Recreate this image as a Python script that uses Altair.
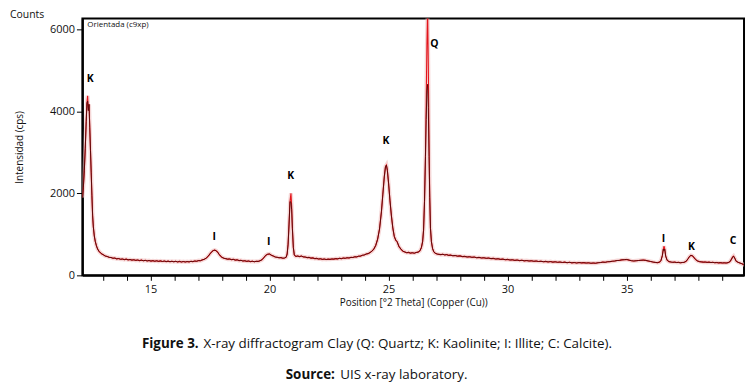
import altair as alt
import pandas as pd

two_theta = [
    12.14, 12.18, 12.22, 12.26, 12.30, 12.33, 12.36, 12.39, 12.42, 12.45,
    12.48, 12.51, 12.54, 12.57, 12.60, 12.64, 12.68, 12.73, 12.78, 12.84,
    12.90, 12.96, 13.02, 13.10, 13.18, 13.26, 13.34, 13.42, 13.50, 13.58,
    13.66, 13.74, 13.82, 13.90, 13.98, 14.06, 14.14, 14.22, 14.30, 14.38,
    14.46, 14.54, 14.62, 14.70, 14.78, 14.86, 14.94, 15.02, 15.10, 15.18,
    15.26, 15.34, 15.42, 15.50, 15.58, 15.66, 15.74, 15.82, 15.90, 15.98,
    16.06, 16.14, 16.22, 16.30, 16.38, 16.46, 16.54, 16.62, 16.70, 16.78,
    16.86, 16.94, 17.02, 17.10, 17.18, 17.26, 17.34, 17.42, 17.50, 17.58,
    17.64, 17.70, 17.76, 17.82, 17.88, 17.94, 18.00, 18.08, 18.16, 18.24,
    18.32, 18.40, 18.48, 18.56, 18.64, 18.72, 18.80, 18.88, 18.96, 19.04,
    19.12, 19.20, 19.28, 19.36, 19.44, 19.52, 19.60, 19.68, 19.76, 19.84,
    19.92, 20.00, 20.08, 20.16, 20.24, 20.32, 20.40, 20.48, 20.56, 20.64,
    20.70, 20.74, 20.78, 20.82, 20.86, 20.90, 20.93, 20.96, 21.00, 21.04,
    21.10, 21.18, 21.26, 21.34, 21.42, 21.50, 21.58, 21.66, 21.74, 21.82,
    21.90, 21.98, 22.06, 22.14, 22.22, 22.30, 22.38, 22.46, 22.54, 22.62,
    22.70, 22.78, 22.86, 22.94, 23.02, 23.10, 23.18, 23.26, 23.34, 23.42,
    23.50, 23.58, 23.66, 23.74, 23.82, 23.90, 23.98, 24.06, 24.14, 24.22,
    24.30, 24.38, 24.46, 24.54, 24.62, 24.70, 24.76, 24.82, 24.87, 24.91,
    24.95, 25.00, 25.06, 25.12, 25.18, 25.24, 25.30, 25.36, 25.44, 25.52,
    25.60, 25.68, 25.76, 25.84, 25.92, 26.00, 26.08, 26.16, 26.24, 26.32,
    26.38, 26.43, 26.47, 26.51, 26.55, 26.58, 26.61, 26.64, 26.67, 26.70,
    26.73, 26.76, 26.80, 26.85, 26.90, 26.96, 27.04, 27.12, 27.20, 27.28,
    27.36, 27.44, 27.52, 27.60, 27.70, 27.80, 27.90, 28.00, 28.10, 28.20,
    28.30, 28.40, 28.50, 28.60, 28.70, 28.80, 28.90, 29.00, 29.10, 29.20,
    29.30, 29.40, 29.50, 29.60, 29.70, 29.80, 29.90, 30.00, 30.10, 30.20,
    30.30, 30.40, 30.50, 30.60, 30.70, 30.80, 30.90, 31.00, 31.10, 31.20,
    31.30, 31.40, 31.50, 31.60, 31.70, 31.80, 31.90, 32.00, 32.10, 32.20,
    32.30, 32.40, 32.50, 32.60, 32.70, 32.80, 32.90, 33.00, 33.10, 33.20,
    33.30, 33.40, 33.50, 33.60, 33.70, 33.80, 33.90, 34.00, 34.10, 34.20,
    34.30, 34.40, 34.50, 34.60, 34.70, 34.80, 34.90, 35.00, 35.10, 35.20,
    35.30, 35.40, 35.50, 35.60, 35.70, 35.80, 35.90, 36.00, 36.10, 36.20,
    36.30, 36.38, 36.44, 36.50, 36.54, 36.57, 36.60, 36.64, 36.70, 36.78,
    36.86, 36.94, 37.02, 37.10, 37.18, 37.26, 37.34, 37.42, 37.50, 37.58,
    37.64, 37.70, 37.76, 37.82, 37.90, 37.98, 38.06, 38.14, 38.22, 38.30,
    38.38, 38.46, 38.54, 38.62, 38.70, 38.78, 38.86, 38.94, 39.02, 39.10,
    39.18, 39.26, 39.34, 39.40, 39.45, 39.49, 39.54, 39.60, 39.68, 39.76,
    39.84, 39.90, 39.95,
]
counts = [
    1900, 2150, 2550, 3100, 3750, 4200, 4380, 4020, 4170, 3600,
    3050, 2500, 1950, 1450, 1180, 960, 830, 720, 640, 585,
    548, 520, 502, 470, 462, 440, 436, 418, 422, 402,
    410, 392, 399, 384, 395, 378, 386, 372, 380, 366,
    375, 360, 371, 356, 366, 352, 362, 348, 358, 344,
    355, 341, 352, 338, 349, 336, 346, 333, 344, 331,
    342, 328, 340, 326, 338, 325, 337, 328, 342, 335,
    350, 344, 360, 358, 378, 392, 420, 465, 525, 580,
    605, 615, 600, 565, 515, 472, 440, 418, 408, 395,
    400, 384, 390, 372, 378, 360, 366, 350, 357, 342,
    350, 336, 345, 332, 342, 340, 356, 380, 430, 488,
    515, 522, 490, 470, 448, 440, 428, 432, 418, 425,
    445, 520, 760, 1250, 1800, 2000, 1700, 1150, 680, 500,
    462, 472, 458, 470, 450, 446, 432, 438, 420, 425,
    408, 414, 398, 405, 390, 398, 386, 395, 390, 400,
    396, 408, 402, 415, 408, 422, 416, 430, 424, 438,
    436, 452, 450, 468, 470, 490, 498, 520, 530, 555,
    590, 640, 730, 880, 1130, 1550, 1980, 2400, 2650, 2690,
    2560, 2250, 1820, 1450, 1150, 950, 860, 820, 700, 640,
    590, 572, 552, 560, 542, 552, 540, 558, 566, 600,
    680, 820, 1100, 1800, 2900, 4200, 5600, 6500, 5100, 3300,
    1900, 1150, 820, 650, 575, 540, 520, 512, 505, 515,
    498, 506, 488, 494, 478, 484, 468, 474, 458, 462,
    448, 455, 440, 446, 430, 438, 424, 430, 416, 422,
    408, 414, 398, 405, 390, 396, 382, 389, 374, 380,
    366, 373, 360, 368, 354, 361, 349, 356, 343, 350,
    338, 345, 332, 340, 327, 336, 322, 331, 318, 326,
    314, 322, 309, 318, 305, 314, 300, 312, 304, 310,
    300, 306, 295, 302, 296, 308, 312, 322, 318, 332,
    335, 345, 350, 362, 365, 378, 382, 388, 372, 358,
    350, 356, 362, 368, 372, 365, 352, 340, 326, 316,
    310, 322, 360, 480, 640, 710, 640, 470, 370, 335,
    325, 318, 322, 312, 316, 306, 314, 318, 345, 405,
    460, 488, 480, 440, 385, 350, 335, 328, 322, 326,
    316, 322, 312, 318, 308, 314, 304, 310, 302, 306,
    300, 310, 335, 390, 445, 470, 420, 345, 318, 300,
    285, 265, 250,
]

# calculated profile (dark line) differs from the measured one at peak tops
fit_theta = [12.36, 20.90, 20.93, 26.58, 26.61, 26.64, 26.67, 26.70, 36.57]
fit_counts = [4250, 1780, 1600, 3800, 4500, 4660, 4100, 2900, 600]

# phase labels
peak_labels = ["K", "I", "I", "K", "K", "Q", "I", "K", "C"]
peak_theta = [12.47, 17.68, 19.97, 20.89, 24.89, 26.93, 36.55, 37.72, 39.47]
peak_counts = [4790, 943, 822, 2419, 3266, 5636, 895, 701, 847]

x_ticks = list(range(13, 40))
y_ticks = [0, 2000, 4000, 6000]

fit_map = dict(zip(fit_theta, fit_counts))
scan = pd.DataFrame({"theta": two_theta, "counts": counts})
scan["fit"] = [fit_map.get(t, c) for t, c in zip(two_theta, counts)]
peaks = pd.DataFrame({"theta": peak_theta, "counts": peak_counts, "label": peak_labels})

FONT = "Open Sans"
x_scale = alt.Scale(domain=[12.14, 39.93], nice=False, zero=False)
y_scale = alt.Scale(domain=[0, 6266], nice=False)

x_axis = alt.Axis(
    values=x_ticks,
    labelExpr="datum.value % 5 === 0 ? datum.label : ''",
    title="Position [°2 Theta] (Copper (Cu))",
    titleFont=FONT, titleFontSize=10, titleFontWeight="normal", titleColor="#111",
    titleY=27, titleBaseline="middle",
    labelFont=FONT, labelFontSize=11, labelColor="#111", labelPadding=3,
    tickSize=5, tickColor="#000", tickWidth=1,
    domainColor="#000", domainWidth=2, grid=False, labelFlush=False,
)
y_axis = alt.Axis(
    values=y_ticks, format="d",
    title="Intensidad (cps)",
    titleFont=FONT, titleFontSize=10, titleFontWeight="normal", titleColor="#111",
    titleX=-63, titleY=129.5, titleAngle=-90, titleBaseline="middle", titleAlign="center",
    labelFont=FONT, labelFontSize=11, labelColor="#111", labelPadding=2,
    tickSize=6, tickColor="#000", tickWidth=1,
    domainColor="#000", domainWidth=2, grid=False,
)

X = alt.X("theta:Q", scale=x_scale, axis=x_axis)

halo = alt.Chart(scan).mark_line(color="#efbcbc", strokeWidth=4, opacity=0.6, clip=True).encode(
    x=X, y=alt.Y("counts:Q", scale=y_scale, axis=y_axis))
red = alt.Chart(scan).mark_line(color="#e3141b", strokeWidth=1.1, clip=True).encode(
    x=X, y=alt.Y("counts:Q", scale=y_scale, axis=y_axis))
dark = alt.Chart(scan).mark_line(color="#5a0a0a", strokeWidth=1, clip=True).encode(
    x=X, y=alt.Y("fit:Q", scale=y_scale, axis=y_axis))
labels = alt.Chart(peaks).mark_text(font=FONT, fontSize=10.5, fontWeight="bold", color="#000").encode(
    x=X, y=alt.Y("counts:Q", scale=y_scale, axis=y_axis), text="label:N")


def note(text, x, y, size, weight="normal", align="left", baseline="middle"):
    return alt.Chart(pd.DataFrame({"t": [text]})).mark_text(
        font=FONT, fontSize=size, fontWeight=weight, align=align, baseline=baseline, color="#111"
    ).encode(x=alt.value(x), y=alt.value(y), text="t:N")


chart = alt.layer(
    halo, red, dark, labels,
    note("Counts", -73, -8, 10.5, baseline="top"),
    note("Orientada (c9xp)", 5, 6.5, 8),
    note("Figure 3.", 60, 328, 13.5, "bold"),
    note("X-ray diffractogram Clay (Q: Quartz; K: Kaolinite; I: Illite; C: Calcite).", 122, 328, 13.5),
    note("Source:", 205, 359, 13.5, "bold"),
    note("UIS x-ray laboratory.", 260, 359, 13.5),
).properties(
    width=667, height=259,
    autosize=alt.AutoSizeParams(type="none"),
    padding={"left": 75, "top": 9, "right": 2, "bottom": 108},
    background="white",
).configure_view(stroke="#000", strokeWidth=2)

chart.save("out.html", embed_options={"renderer": "svg", "actions": False})
